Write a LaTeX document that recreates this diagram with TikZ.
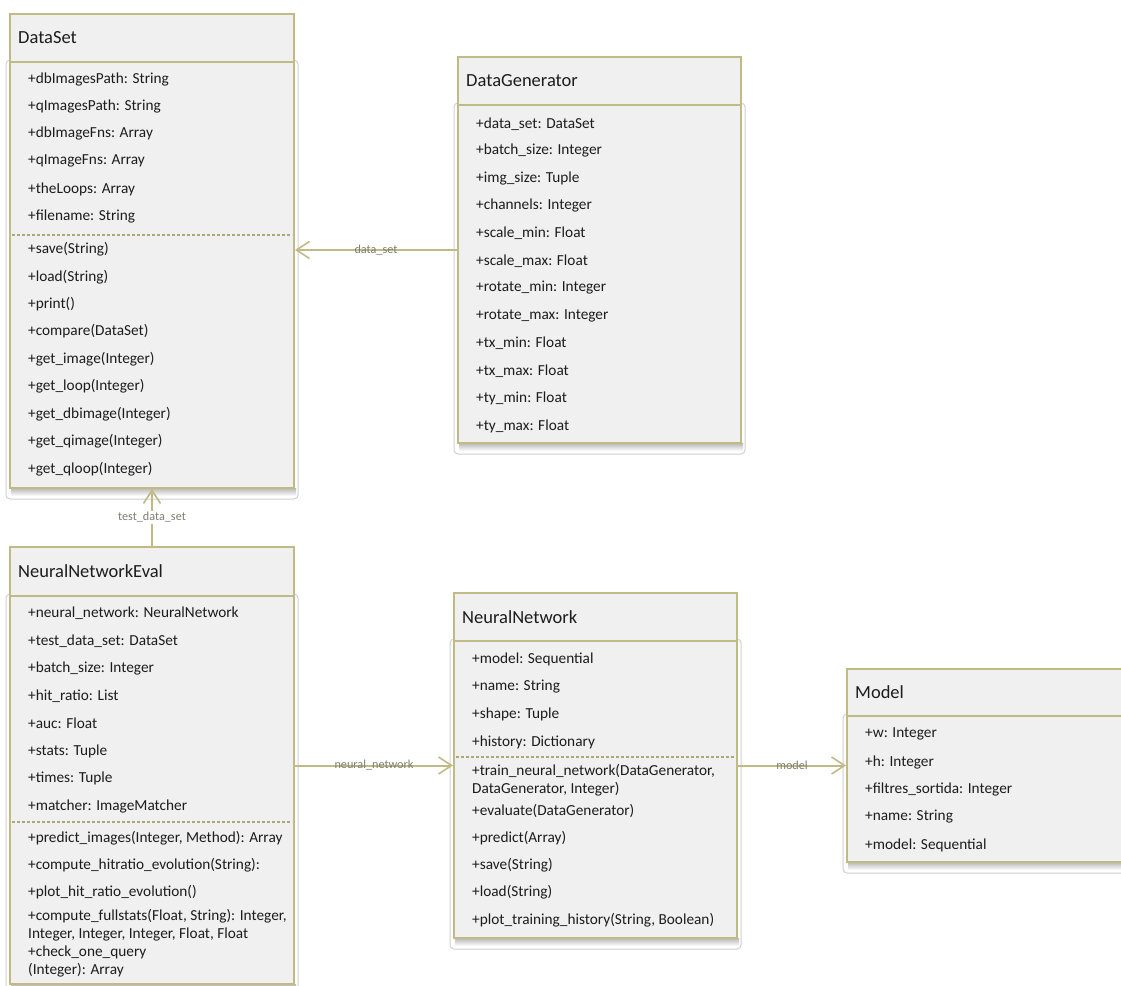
\documentclass[tikz,border=0pt]{standalone}
\usepackage{fontspec}
\setmainfont{Carlito}
\usetikzlibrary{arrows.meta,fit}

\definecolor{umlborder}{RGB}{193,186,132}
\definecolor{umlfill}{RGB}{240,240,240}
\definecolor{umltext}{RGB}{28,28,28}
\definecolor{umllabel}{RGB}{125,125,112}
\definecolor{umlframe}{RGB}{208,208,208}

\tikzset{
  classbox/.style={draw=umlborder, line width=2pt, fill=umlfill, inner sep=0pt},
  headrule/.style={draw=umlborder, line width=2pt},
  classtitle/.style={anchor=west, inner sep=0pt, text=umltext, font=\fontsize{18.5}{20}\selectfont},
  member/.style={anchor=west, inner sep=0pt, text=umltext, align=left,
                 font=\fontsize{15.3}{18}\selectfont},
  divider/.style={draw=umlborder!90!black, line width=1.2pt, dash pattern=on 3pt off 2pt},
  outerframe/.style={draw=umlframe, line width=1pt, fill=white, rounded corners=4pt},
  assoc/.style={draw=umlborder, line width=2pt,
                -{Straight Barb[length=13pt,width=17pt,line width=1.6pt]}},
  rolelabel/.style={text=umllabel, font=\fontsize{12.2}{13}\selectfont, inner sep=1pt},
}

% #1 name, #2 left, #3 top, #4 right, #5 header bottom, #6 bottom, #7 title
\newcommand{\umlclass}[7]{%
  \draw[outerframe] (#2-4,#5-2) rectangle (#4+4,#6+11);
  \shade[top color=black!28, bottom color=white] (#2+1,#6) rectangle (#4+2,#6+8);
  \node[classbox, fit={(#2,#3) (#4,#6)}] (#1) {};
  \draw[headrule] (#2,#5) -- (#4,#5);
  \node[classtitle] (#1-title) at (#2+8,{(#3+#5)/2}) {#7};
}

\begin{document}
\begin{tikzpicture}[x=1pt,y=-1pt]
\useasboundingbox (0,0) rectangle (1121,985);
\clip (0,0) rectangle (1121,985);

% ---------- DataSet ----------
\umlclass{dataset}{10}{14}{294}{62}{488}{DataSet}
\foreach \t/\y [count=\i] in {
  {+dbImagesPath: String}/80, {+qImagesPath: String}/107, {+dbImageFns: Array}/134,
  {+qImageFns: Array}/161, {+theLoops: Array}/189, {+filename: String}/216}
  \node[member] (dataset-a\i) at (28,\y) {\t};
\draw[divider] (12,235) -- (292,235);
\foreach \t/\y [count=\i] in {
  {+save(String)}/249, {+load(String)}/277, {+print()}/304, {+compare(DataSet)}/331,
  {+get\_image(Integer)}/359, {+get\_loop(Integer)}/386, {+get\_dbimage(Integer)}/414,
  {+get\_qimage(Integer)}/441, {+get\_qloop(Integer)}/469}
  \node[member] (dataset-m\i) at (28,\y) {\t};

% ---------- DataGenerator ----------
\umlclass{gen}{458}{57}{741}{105}{443}{DataGenerator}
\foreach \t/\y [count=\i] in {
  {+data\_set: DataSet}/124, {+batch\_size: Integer}/151, {+img\_size: Tuple}/179,
  {+channels: Integer}/206, {+scale\_min: Float}/233, {+scale\_max: Float}/261,
  {+rotate\_min: Integer}/288, {+rotate\_max: Integer}/316, {+tx\_min: Float}/343,
  {+tx\_max: Float}/371, {+ty\_min: Float}/398, {+ty\_max: Float}/426}
  \node[member] (gen-a\i) at (476,\y) {\t};

% ---------- NeuralNetworkEval ----------
\umlclass{nneval}{10}{547}{294}{596}{984}{NeuralNetworkEval}
\foreach \t/\y [count=\i] in {
  {+neural\_network: NeuralNetwork}/613, {+test\_data\_set: DataSet}/641,
  {+batch\_size: Integer}/668, {+hit\_ratio: List}/696, {+auc: Float}/723,
  {+stats: Tuple}/751, {+times: Tuple}/778, {+matcher: ImageMatcher}/806}
  \node[member] (nneval-a\i) at (28,\y) {\t};
\draw[divider] (12,822) -- (292,822);
\node[member] (nneval-m1) at (28,838) {+predict\_images(Integer, Method): Array};
\node[member] (nneval-m2) at (28,865) {+compute\_hitratio\_evolution(String):};
\node[member] (nneval-m3) at (28,892) {+plot\_hit\_ratio\_evolution()};
\node[member] (nneval-m4) at (28,925) {+compute\_fullstats(Float, String): Integer,\\Integer, Integer, Integer, Float, Float};
\node[member] (nneval-m5) at (28,961) {+check\_one\_query\\(Integer): Array};

% ---------- NeuralNetwork ----------
\umlclass{nn}{454}{593}{737}{641}{938}{NeuralNetwork}
\foreach \t/\y [count=\i] in {
  {+model: Sequential}/659, {+name: String}/687, {+shape: Tuple}/714,
  {+history: Dictionary}/742}
  \node[member] (nn-a\i) at (472,\y) {\t};
\draw[divider] (456,757) -- (735,757);
\node[member] (nn-m1) at (472,780) {+train\_neural\_network(DataGenerator,\\DataGenerator, Integer)};
\node[member] (nn-m2) at (472,811) {+evaluate(DataGenerator)};
\node[member] (nn-m3) at (472,838) {+predict(Array)};
\node[member] (nn-m4) at (472,865) {+save(String)};
\node[member] (nn-m5) at (472,892) {+load(String)};
\node[member] (nn-m6) at (472,920) {+plot\_training\_history(String, Boolean)};

% ---------- Model ----------
\umlclass{model}{847}{669}{1135}{716}{862}{Model}
\foreach \t/\y [count=\i] in {
  {+w: Integer}/734, {+h: Integer}/762, {+filtres\_sortida: Integer}/789,
  {+name: String}/817, {+model: Sequential}/845}
  \node[member] (model-a\i) at (865,\y) {\t};

% ---------- associations ----------
\draw[assoc] (gen.west) -- (gen.west -| dataset.east)
  node[rolelabel, pos=0.5] (lbl-dataset) {data\_set};
\draw[assoc] (nneval.north) -- (dataset.south)
  node[rolelabel, fill=white, pos=0.5] (lbl-testset) {test\_data\_set};
\draw[assoc] (nneval.east) -- (nn.west)
  node[rolelabel, pos=0.5] (lbl-nn) {neural\_network};
\draw[assoc] (nn.east) -- (model.west)
  node[rolelabel, pos=0.5] (lbl-model) {model};
\end{tikzpicture}
\end{document}
